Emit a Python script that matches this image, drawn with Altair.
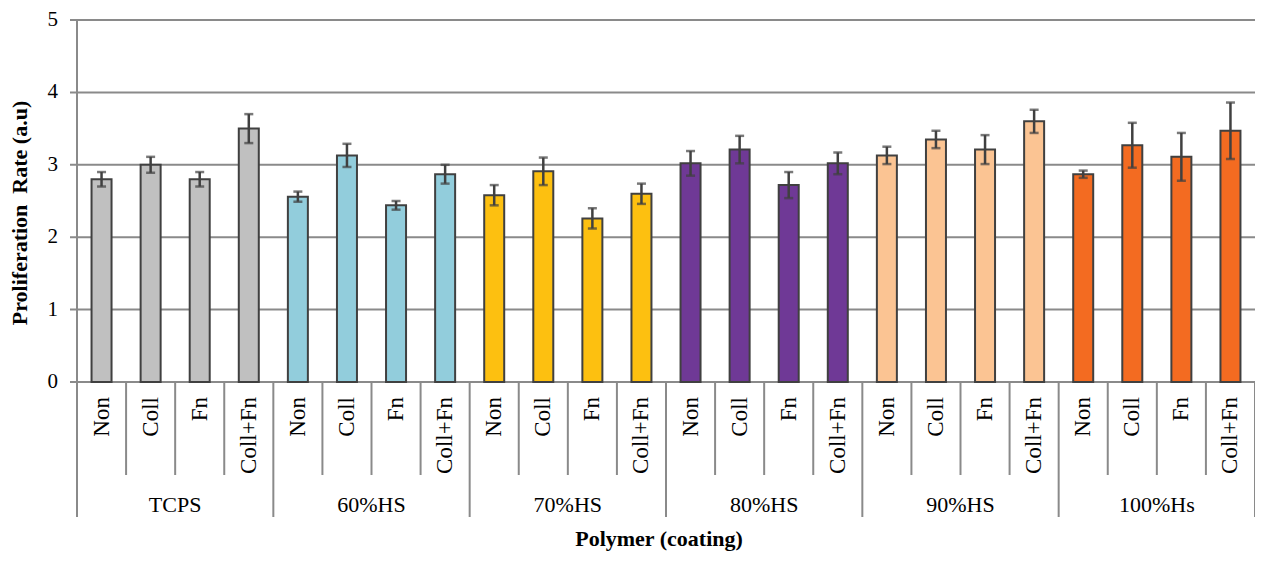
import altair as alt
import pandas as pd

groups = ["TCPS", "60%HS", "70%HS", "80%HS", "90%HS", "100%Hs"]
coatings = ["Non", "Coll", "Fn", "Coll+Fn"]
colors = ["#C0C0C0", "#92CDDC", "#FDC010", "#6F3996", "#FBC493", "#F36B21"]

tcps_mean = [2.80, 3.00, 2.80, 3.50]
hs60_mean = [2.56, 3.13, 2.44, 2.87]
hs70_mean = [2.58, 2.91, 2.26, 2.60]
hs80_mean = [3.02, 3.21, 2.72, 3.02]
hs90_mean = [3.13, 3.35, 3.21, 3.60]
hs100_mean = [2.87, 3.27, 3.11, 3.47]

tcps_err = [0.10, 0.11, 0.10, 0.20]
hs60_err = [0.07, 0.16, 0.06, 0.13]
hs70_err = [0.14, 0.19, 0.14, 0.14]
hs80_err = [0.17, 0.19, 0.18, 0.15]
hs90_err = [0.12, 0.12, 0.20, 0.16]
hs100_err = [0.05, 0.31, 0.33, 0.39]

y_ticks = [0, 1, 2, 3, 4, 5]
y_title = "Proliferation\u00a0 Rate (a.u)"
x_title_text = "Polymer (coating)"

means = [tcps_mean, hs60_mean, hs70_mean, hs80_mean, hs90_mean, hs100_mean]
errs = [tcps_err, hs60_err, hs70_err, hs80_err, hs90_err, hs100_err]

rows = []
for g, ms, es in zip(groups, means, errs):
    for c, m, e in zip(coatings, ms, es):
        rows.append({"group": g, "coating": c, "key": g + "|" + c,
                     "mean": m, "lo": m - e, "hi": m + e,
                     "inner": c != coatings[0]})
df = pd.DataFrame(rows)
keys = list(df["key"])

gdf = pd.DataFrame({"group": groups, "last": [g == groups[-1] for g in groups]})
ydf = pd.DataFrame({"v": y_ticks})

FONT = "Liberation Serif"
GRID = "#8A8A8A"
DARK = "#404040"
W, H = 1178, 362

xcat = alt.Scale(type="band", domain=keys, paddingInner=0, paddingOuter=0)
xgrp = alt.Scale(type="band", domain=groups, paddingInner=0, paddingOuter=0)
yscale = alt.Scale(domain=[0, 5], nice=False)

# --- y axis drawn as marks ---
ybase = alt.Chart(ydf)
grid = ybase.mark_rule(color=GRID, strokeWidth=2).encode(
    y=alt.Y("v:Q", scale=yscale, axis=None),
    x=alt.value(-7), x2=alt.value(W),
)
ydomain = ybase.transform_filter("datum.v == 0").mark_rule(color=GRID, strokeWidth=2).encode(
    y=alt.Y("v:Q", scale=yscale, axis=None),
    y2=alt.value(0),
    x=alt.value(0),
)
ylabels = ybase.mark_text(align="right", baseline="middle", font=FONT,
                          fontSize=21, color="black").encode(
    y=alt.Y("v:Q", scale=yscale, axis=None),
    x=alt.value(-19),
    text=alt.Text("v:Q", format="d"),
)
ytitle = alt.Chart(pd.DataFrame({"t": [y_title]})).mark_text(
    angle=270, align="center", baseline="middle", font=FONT, fontSize=22,
    fontWeight="bold", color="black").encode(
    x=alt.value(-57), y=alt.value(193), text="t:N")

base = alt.Chart(df)

bars = base.mark_bar(width=20, stroke=DARK, strokeWidth=2).encode(
    x=alt.X("key:N", scale=xcat, axis=None, sort=keys),
    y=alt.Y("mean:Q", scale=yscale, axis=None),
    color=alt.Color("group:N", scale=alt.Scale(domain=groups, range=colors), legend=None),
)

err = base.mark_rule(color=DARK, strokeWidth=2.5).encode(
    x=alt.X("key:N", scale=xcat, axis=None, sort=keys),
    y=alt.Y("lo:Q", scale=yscale, axis=None),
    y2="hi:Q",
)
cap_lo = base.mark_tick(color=DARK, size=9, thickness=2.5, orient="horizontal").encode(
    x=alt.X("key:N", scale=xcat, axis=None, sort=keys),
    y=alt.Y("lo:Q", scale=yscale, axis=None),
)
cap_hi = base.mark_tick(color=DARK, size=9, thickness=2.5, orient="horizontal").encode(
    x=alt.X("key:N", scale=xcat, axis=None, sort=keys),
    y=alt.Y("hi:Q", scale=yscale, axis=None),
)

cat_labels = base.mark_text(angle=270, align="right", baseline="middle",
                            font=FONT, fontSize=23, color="black").encode(
    x=alt.X("key:N", scale=xcat, axis=None, sort=keys),
    y=alt.value(377),
    text="coating:N",
)

cat_sep = base.transform_filter("datum.inner").mark_rule(color=GRID, strokeWidth=2).encode(
    x=alt.X("key:N", scale=xcat, axis=None, sort=keys, bandPosition=0),
    y=alt.value(H),
    y2=alt.value(455),
)

gbase = alt.Chart(gdf)
grp_labels = gbase.mark_text(align="center", baseline="alphabetic",
                             font=FONT, fontSize=22, color="black").encode(
    x=alt.X("group:N", scale=xgrp, axis=None, sort=groups),
    y=alt.value(492),
    text="group:N",
)
grp_sep = gbase.mark_rule(color=GRID, strokeWidth=2).encode(
    x=alt.X("group:N", scale=xgrp, axis=None, sort=groups, bandPosition=0),
    y=alt.value(H),
    y2=alt.value(497),
)
grp_sep_end = gbase.transform_filter("datum.last").mark_rule(color=GRID, strokeWidth=2).encode(
    x=alt.X("group:N", scale=xgrp, axis=None, sort=groups, bandPosition=1),
    y=alt.value(H),
    y2=alt.value(497),
)
x_title = alt.Chart(pd.DataFrame({"t": [x_title_text]})).mark_text(
    align="center", baseline="alphabetic", font=FONT, fontSize=22,
    fontWeight="bold", color="black").encode(
    x=alt.value(582), y=alt.value(526), text="t:N")

chart = alt.layer(grid, ydomain, ylabels, ytitle,
                  bars, err, cap_lo, cap_hi, cat_sep, cat_labels,
                  grp_sep, grp_sep_end, grp_labels, x_title).resolve_scale(
    x="independent").properties(
    width=W, height=H,
    autosize=alt.AutoSizeParams(type="none"),
    padding={"left": 69, "top": 12, "right": 0, "bottom": 169},
).configure_view(strokeWidth=0)

chart.save("out.html", embed_options={"renderer": "svg", "actions": False})
